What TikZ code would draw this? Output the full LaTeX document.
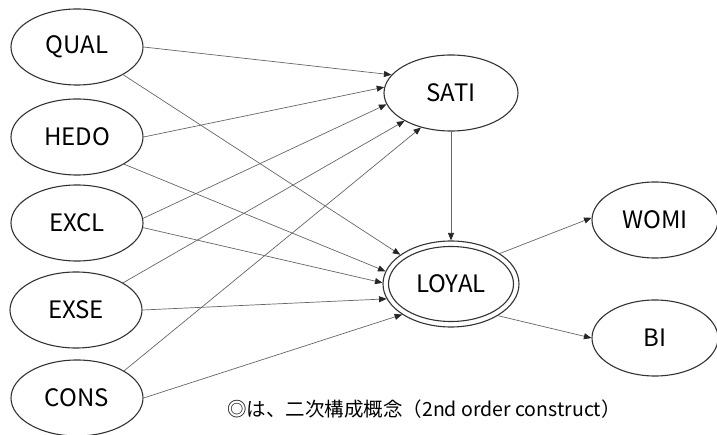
\documentclass[tikz,border=0pt]{standalone}
\usepackage{fontspec}
\setmainfont{Noto Sans CJK JP}
\usetikzlibrary{arrows.meta,shapes.geometric}
\begin{document}
\begin{tikzpicture}[x=1pt,y=-1pt,
  var/.style={ellipse,draw=black!80,line width=1.1pt,minimum width=132pt,
    minimum height=76pt,inner sep=0pt,font=\fontsize{24}{27}\selectfont},
  link/.style={draw=black!60,line width=0.7pt,
    -{Triangle[length=7.5pt,width=6pt,color=black!85]}}
]
\useasboundingbox (0,0) rectangle (717,435);

% exogenous constructs
\node[var] (QUAL) at (77,47)  {QUAL};
\node[var] (HEDO) at (77,137) {HEDO};
\node[var] (EXCL) at (77,223) {EXCL};
\node[var] (EXSE) at (76,310) {EXSE};
\node[var] (CONS) at (77,398) {CONS};

% mediators and outcomes
\node[var,minimum width=134pt] (SATI) at (451,93) {SATI};
\node[var,minimum width=136pt,minimum height=86pt,draw=none] (LOYAL) at (451,284) {LOYAL};
\draw[black!80,line width=1.1pt] (LOYAL.center) ellipse [x radius=68pt,y radius=43pt];
\draw[black!80,line width=1.1pt] (LOYAL.center) ellipse [x radius=62.5pt,y radius=37.5pt];
\node[var,minimum width=126pt] (WOMI) at (655,220) {WOMI};
\node[var,minimum width=126pt] (BI)   at (655,338) {BI};

% paths into SATI
\draw[link] (QUAL.east) -- (SATI.163);
\draw[link] (HEDO.east) -- (SATI.175);
\draw[link] (EXCL.4)    -- (SATI.190);
\draw[link] (EXSE.30)   -- (SATI.211);
\draw[link] (CONS.30)   -- (SATI.229);

% paths into LOYAL
\draw[link] (QUAL.-31)  -- (LOYAL.150);
\draw[link] (HEDO.-30)  -- (LOYAL.169);
\draw[link] (EXCL.-4)   -- (LOYAL.179);
\draw[link] (EXSE.east) -- (LOYAL.193);
\draw[link] (CONS.east) -- (LOYAL.212);
\draw[link] (SATI.south) -- (LOYAL.north);

% outcomes of LOYAL
\draw[link] (LOYAL.32)  -- (WOMI.178);
\draw[link] (LOYAL.-34) -- (BI.west);

\node[anchor=west,inner sep=0pt,font=\fontsize{19.5}{22}\selectfont] (note) at (227,409)
  {◎は、二次構成概念（2nd order construct）};
\end{tikzpicture}
\end{document}
